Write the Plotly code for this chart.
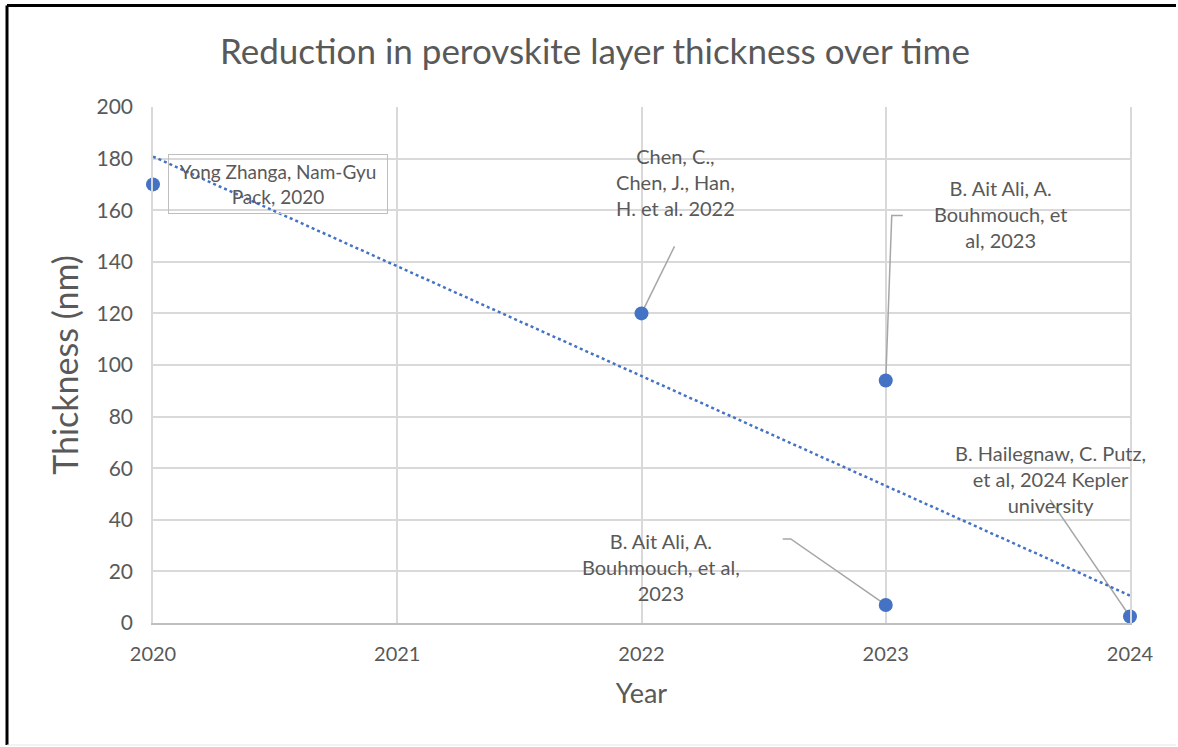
import numpy as np
import plotly.graph_objects as go

# Data: perovskite layer thickness reported per study
years = [2020, 2022, 2023, 2023, 2024]
thickness_nm = [170, 120, 94, 7, 2.5]
study_labels = [
    "Yong Zhanga, Nam-Gyu<br>Pack, 2020",
    "Chen, C.,<br>Chen, J., Han,<br>H. et al. 2022",
    "B. Ait Ali, A.<br>Bouhmouch, et<br>al, 2023",
    "B. Ait Ali, A.<br>Bouhmouch, et al,<br>2023",
    "B. Hailegnaw, C. Putz,<br>et al, 2024 Kepler<br>university",
]
x_ticks = [2020, 2021, 2022, 2023, 2024]
y_ticks = list(range(0, 201, 20))

# Label placement (pixel offsets from each point) and leader line paths
label_offsets = [(125, 0), (34, 131), (115, 166), (-225, 38), (-80, 138)]
leader_paths = [
    None,
    [(0, 0), (33, 67)],
    [(0, 0), (6, 165), (17, 165)],
    [(0, 0), (-95, 66), (-103, 66)],
    [(0, 0), (-80, 117)],
]

BLUE = "#4472C4"
TEXT = "#595959"
GRID = "#d9d9d9"
FONT = "Lato"

W, H = 1178, 747
ML, MR, MT, MB = 153, 48, 107, 124

# Linear trend line through the points
slope, intercept = np.polyfit(np.array(years) - 2020, thickness_nm, 1)
trend_x = np.array([2020, 2024])
trend_y = intercept + slope * (trend_x - 2020)

fig = go.Figure()
fig.add_trace(go.Scatter(
    x=trend_x, y=trend_y, mode="lines",
    line=dict(color=BLUE, width=2.5, dash="dot"),
    hoverinfo="skip", showlegend=False,
))
fig.add_trace(go.Scatter(
    x=years, y=thickness_nm, mode="markers",
    marker=dict(color=BLUE, size=14),
    cliponaxis=False, showlegend=False,
))

annotations = []
shapes = []
for i, (xv, yv, txt) in enumerate(zip(years, thickness_nm, study_labels)):
    dx, dy = label_offsets[i]
    ann = dict(
        x=xv, y=yv, xref="x", yref="y", text=txt, showarrow=False,
        xshift=dx, yshift=dy, xanchor="center", yanchor="middle",
        align="center", font=dict(family=FONT, size=20, color=TEXT),
    )
    if i == 0:
        ann.update(font=dict(family=FONT, size=19, color=TEXT),
                   bordercolor="#bfbfbf", borderwidth=1, borderpad=4,
                   width=210, height=50)
    annotations.append(ann)
    path = leader_paths[i]
    if path:
        d = "M " + " L ".join(f"{px},{py}" for px, py in path)
        shapes.append(dict(
            type="path", path=d, xref="x", yref="y",
            xsizemode="pixel", ysizemode="pixel", xanchor=xv, yanchor=yv,
            line=dict(color="#a6a6a6", width=1.5), layer="between",
        ))

# Outer frame around the whole chart
pw, ph = W - ML - MR, H - MT - MB
def px_x(p):
    return (p - ML) / pw
def px_y(p):
    return (H - MB - p) / ph
left, right, top, bottom = px_x(7), px_x(1176), px_y(5.5), px_y(745)
shapes += [
    dict(type="line", xref="paper", yref="paper", x0=left, x1=left, y0=bottom, y1=top,
         line=dict(color="black", width=3)),
    dict(type="line", xref="paper", yref="paper", x0=left, x1=right, y0=top, y1=top,
         line=dict(color="black", width=3)),
    dict(type="line", xref="paper", yref="paper", x0=left, x1=right, y0=bottom, y1=bottom,
         line=dict(color="#e6e6e6", width=1)),
]

fig.update_layout(
    width=W, height=H,
    margin=dict(l=ML, r=MR, t=MT, b=MB),
    paper_bgcolor="white", plot_bgcolor="white",
    font=dict(family=FONT, color=TEXT),
    title=dict(text="Reduction in perovskite layer thickness over time",
               x=0.505, xref="container", xanchor="center",
               y=1 - 52 / H, yref="container", yanchor="middle",
               font=dict(family=FONT, size=35, color=TEXT)),
    xaxis=dict(
        range=[2020, 2024], tickvals=x_ticks, ticktext=[str(v) for v in x_ticks],
        showgrid=True, gridcolor=GRID, gridwidth=1.5, zeroline=False,
        showline=True, linecolor="#bfbfbf", linewidth=1.5,
        ticks="", ticklabelstandoff=12,
        tickfont=dict(family=FONT, size=20, color=TEXT),
        title=dict(text="Year", font=dict(family=FONT, size=27, color=TEXT), standoff=20),
    ),
    yaxis=dict(
        range=[0, 200], tickvals=y_ticks,
        showgrid=True, gridcolor=GRID, gridwidth=1.5, zeroline=False,
        showline=True, linecolor=GRID, linewidth=1.5, mirror=True,
        ticks="", ticklabelstandoff=14,
        tickfont=dict(family=FONT, size=21, color=TEXT),
        title=dict(text="Thickness (nm)", font=dict(family=FONT, size=34, color=TEXT), standoff=8),
    ),
    annotations=annotations,
    shapes=shapes,
)

fig.write_html("out.html")
